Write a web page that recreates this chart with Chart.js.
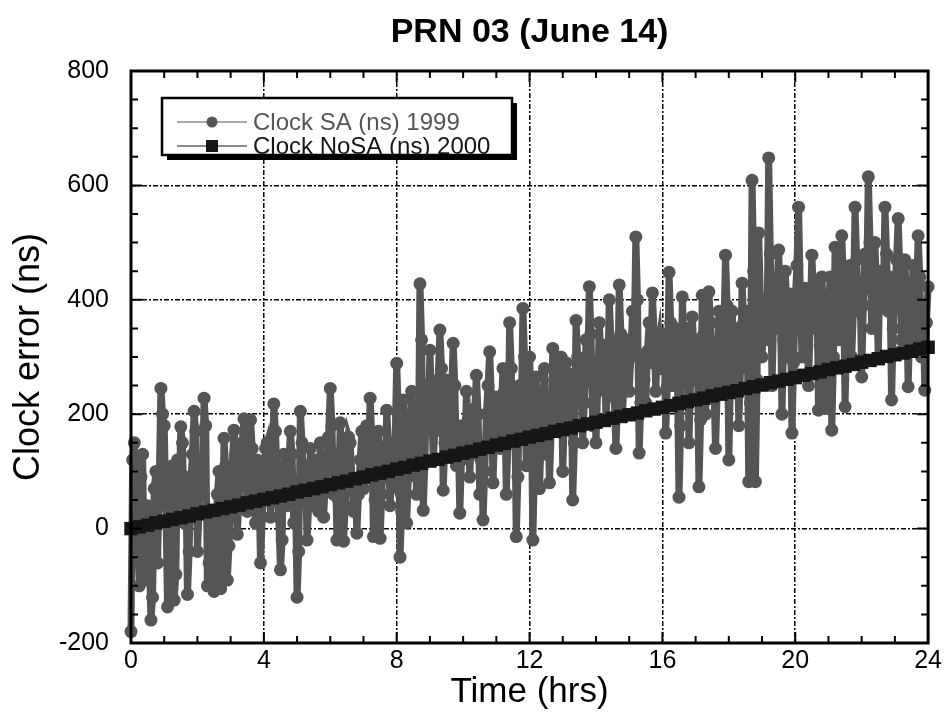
<!DOCTYPE html>
<html>
<head>
<meta charset="utf-8">
<title>PRN 03 (June 14)</title>
<script src="https://cdn.jsdelivr.net/npm/chart.js@4"></script>
<style>
  html, body { margin: 0; padding: 0; background: #fff; }
  #wrap { width: 945px; height: 716px; }
</style>
</head>
<body>
<div id="wrap"><canvas id="chart" width="945" height="716"></canvas></div>
<script>
const chartTitle = 'PRN 03 (June 14)';
const xTitle = 'Time (hrs)';
const yTitle = 'Clock error (ns)';
const saLabel = 'Clock SA (ns) 1999';
const noSaLabel = 'Clock NoSA (ns) 2000';

const xTicks = [0, 4, 8, 12, 16, 20, 24];
const yTicks = [-200, 0, 200, 400, 600, 800];
const xMinorStep = 1;
const yMinorStep = 50;

// SA clock error, one reading every 0.05 h (one row per hour)
const saStep = 0.05;
const saValues = [
  -180, 120, 150, 60, -20, -100, 90, 130, -90, 20, 40, -40, -160, -120, 70, 100, -60, 80, 245, 200,
  180, 40, -137, -60, 40, 110, -125, -80, 120, 60, 178, 150, 10, 90, -115, -40, 80, 130, 205, 170,
  -40, 30, 120, 60, 228, 180, -100, -60, 20, -80, -110, -20, 60, 100, -105, -70, 158, 110, -90, -30,
  40, 110, 172, 130, -10, 50, 95, 150, 192, 120, 30, 90, 190, 140, 60, 10, 120, 80, -60, 20,
  80, 140, 150, 100, 20, 60, 218, 170, 90, 20, -72, -20, 130, 90, 40, 110, 170, 130, 10, 70,
  -120, -40, 205, 150, 60, 110, -20, 40, 140, 90, 50, 120, 90, 30, 150, 110, 20, 80, 110, 160,
  245, 180, 60, 130, -20, 50, 185, 120, -22, 40, 100, 160, 150, 90, 30, 80, -8, 60, 120, 170,
  70, 130, 180, 110, 228, 160, -14, 50, 110, 170, -17, 60, 140, 90, 207, 150, 40, 100, 90, 140,
  289, 200, -50, 30, 225, 150, 10, 90, 180, 240, 120, 170, 60, 110, 428, 330, 32, 120, 250, 190,
  312, 220, 120, 170, 200, 260, 347, 280, 67, 150, 260, 200, 150, 230, 324, 250, 110, 180, 27, 120,
  180, 130, 240, 190, 90, 160, 150, 210, 268, 200, 60, 140, 15, 100, 200, 250, 309, 230, 80, 170,
  230, 180, 140, 210, 280, 240, 60, 150, 360, 280, 170, 230, -14, 90, 250, 190, 385, 300, 110, 200,
  300, 230, -20, 120, 265, 200, 70, 160, 220, 280, 130, 200, 80, 170, 315, 260, 170, 230, 250, 300,
  100, 200, 290, 240, 200, 270, 50, 150, 364, 300, 230, 280, 150, 220, 330, 270, 423, 340, 180, 250,
  150, 240, 360, 300, 260, 320, 190, 250, 400, 330, 280, 230, 140, 220, 426, 340, 200, 270, 330, 290,
  240, 300, 380, 320, 510, 400, 132, 220, 300, 260, 220, 310, 360, 290, 412, 340, 240, 310, 330, 280,
  280, 340, 167, 250, 448, 360, 250, 320, 350, 280, 55, 180, 405, 330, 300, 350, 150, 260, 370, 310,
  260, 330, 73, 190, 408, 340, 200, 290, 414, 360, 300, 250, 140, 240, 380, 320, 250, 340, 478, 390,
  120, 260, 380, 320, 260, 350, 180, 280, 429, 360, 300, 380, 82, 220, 609, 450, 82, 260, 517, 400,
  300, 360, 400, 330, 648, 480, 250, 370, 350, 420, 487, 400, 200, 330, 450, 380, 300, 410, 167, 290,
  400, 460, 562, 420, 300, 380, 420, 350, 250, 360, 478, 410, 350, 430, 207, 320, 440, 380, 210, 330,
  380, 440, 172, 300, 492, 420, 330, 390, 512, 440, 213, 350, 400, 460, 300, 380, 562, 470, 380, 430,
  265, 390, 480, 420, 615, 500, 350, 440, 500, 410, 300, 450, 450, 390, 562, 480, 380, 440, 225, 350,
  420, 470, 542, 450, 330, 420, 470, 400, 248, 360, 400, 460, 330, 400, 512, 440, 300, 390, 242, 360,
  423
];

// NoSA clock error, one reading every 0.25 h
const noSaStep = 0.25;
const noSaValues = [
  0, 3, 6, 10, 13, 16, 19, 22, 26, 29, 32, 35, 38, 41, 45, 48, 51, 54, 57, 60, 64, 67, 70, 73, 77,
  80, 83, 87, 90, 94, 97, 100, 104, 107, 111, 114, 118, 121, 125, 128, 132, 135, 139, 142, 146, 149, 153, 156, 160,
  163, 166, 170, 173, 176, 180, 183, 186, 189, 193, 196, 199, 202, 206, 209, 212, 215, 219, 222, 225, 228, 232, 235, 238,
  241, 245, 248, 251, 255, 258, 261, 264, 268, 271, 274, 278, 281, 284, 287, 291, 294, 297, 301, 304, 307, 310, 314, 317
];

const FONT = '"Liberation Sans", Arial, Helvetica, sans-serif';
const SA_COLOR = '#555555';
const NOSA_COLOR = '#161616';

const saPoints = saValues.map((v, i) => ({ x: +(i * saStep).toFixed(2), y: v }));
const noSaPoints = noSaValues.map((v, i) => ({ x: +(i * noSaStep).toFixed(2), y: v }));

// frame with inward ticks on all four sides
const framePlugin = {
  id: 'frame',
  afterDatasetsDraw(chart) {
    const { ctx, chartArea: a, scales: { x, y } } = chart;
    ctx.save();
    ctx.strokeStyle = '#000';
    ctx.lineWidth = 2;
    ctx.beginPath();
    for (let v = x.min; v <= x.max; v += xMinorStep) {
      const px = x.getPixelForValue(v);
      const len = xTicks.includes(v) ? 11 : 7;
      ctx.moveTo(px, a.bottom); ctx.lineTo(px, a.bottom - len);
      ctx.moveTo(px, a.top); ctx.lineTo(px, a.top + len);
    }
    for (let v = y.min; v <= y.max; v += yMinorStep) {
      const py = y.getPixelForValue(v);
      const len = yTicks.includes(v) ? 11 : 7;
      ctx.moveTo(a.left, py); ctx.lineTo(a.left + len, py);
      ctx.moveTo(a.right, py); ctx.lineTo(a.right - len, py);
    }
    ctx.stroke();
    ctx.lineWidth = 3;
    ctx.strokeRect(a.left, a.top, a.right - a.left, a.bottom - a.top);
    ctx.restore();
  }
};

const titlePlugin = {
  id: 'plotTitle',
  afterDraw(chart) {
    const { ctx, chartArea: a } = chart;
    ctx.save();
    ctx.font = 'bold 34px ' + FONT;
    ctx.fillStyle = '#000';
    ctx.textAlign = 'center';
    ctx.textBaseline = 'middle';
    ctx.fillText(chartTitle, (a.left + a.right) / 2, 33);
    ctx.restore();
  }
};

const legendPlugin = {
  id: 'boxLegend',
  afterDraw(chart) {
    const ctx = chart.ctx;
    const bx = 162, by = 98, bw = 350, bh = 57;
    ctx.save();
    ctx.fillStyle = '#000';
    ctx.fillRect(bx + 5, by + 5, bw, bh);
    ctx.fillStyle = '#fff';
    ctx.fillRect(bx, by, bw, bh);
    ctx.lineWidth = 2.5;
    ctx.strokeStyle = '#000';
    ctx.strokeRect(bx, by, bw, bh);

    const rows = [
      { label: saLabel, color: SA_COLOR, y: 122, marker: 'circle' },
      { label: noSaLabel, color: NOSA_COLOR, y: 146, marker: 'rect' }
    ];
    ctx.font = '24px ' + FONT;
    ctx.textBaseline = 'middle';
    rows.forEach(r => {
      ctx.strokeStyle = r.color;
      ctx.fillStyle = r.color;
      ctx.lineWidth = 1.2;
      ctx.beginPath();
      ctx.moveTo(177, r.y); ctx.lineTo(247, r.y);
      ctx.stroke();
      if (r.marker === 'circle') {
        ctx.beginPath();
        ctx.arc(212, r.y, 5.5, 0, Math.PI * 2);
        ctx.fill();
      } else {
        ctx.fillRect(206, r.y - 6, 12, 12);
      }
      ctx.fillText(r.label, 253, r.y + 1);
    });
    ctx.restore();
  }
};

new Chart(document.getElementById('chart'), {
  type: 'line',
  data: {
    datasets: [
      {
        label: noSaLabel,
        data: noSaPoints,
        order: 0,
        borderColor: NOSA_COLOR,
        borderWidth: 1,
        pointStyle: 'rect',
        pointRadius: 9.5,
        pointBorderWidth: 0,
        pointBackgroundColor: NOSA_COLOR,
        clip: false
      },
      {
        label: saLabel,
        data: saPoints,
        order: 1,
        borderColor: SA_COLOR,
        borderWidth: 7,
        pointStyle: 'circle',
        pointRadius: 6.5,
        pointBorderWidth: 0,
        pointBackgroundColor: SA_COLOR,
        clip: false
      }
    ]
  },
  options: {
    responsive: false,
    animation: false,
    layout: { padding: { top: 71, right: 14, left: 0, bottom: 0 } },
    plugins: {
      legend: { display: false },
      tooltip: { enabled: false },
      title: { display: false }
    },
    scales: {
      x: {
        type: 'linear',
        min: 0,
        max: 24,
        afterFit(scale) { scale.height = 73; },
        afterBuildTicks(scale) { scale.ticks = xTicks.map(v => ({ value: v })); },
        ticks: {
          font: { family: FONT, size: 25 },
          color: '#000',
          padding: 3,
          maxRotation: 0
        },
        grid: {
          color: '#000',
          lineWidth: 1.5,
          drawTicks: false
        },
        border: { display: false, dash: [5, 2, 2, 2] },
        title: {
          display: true,
          text: xTitle,
          font: { family: FONT, size: 35 },
          color: '#000',
          padding: { top: 0, bottom: 3 }
        }
      },
      y: {
        type: 'linear',
        min: -200,
        max: 800,
        afterFit(scale) { scale.width = 131; },
        afterBuildTicks(scale) { scale.ticks = yTicks.map(v => ({ value: v })); },
        ticks: {
          font: { family: FONT, size: 25 },
          color: '#000',
          padding: 22
        },
        grid: {
          color: '#000',
          lineWidth: 1.5,
          drawTicks: false
        },
        border: { display: false, dash: [5, 2, 2, 2] },
        title: {
          display: true,
          text: yTitle,
          font: { family: FONT, size: 36 },
          color: '#000',
          padding: { top: 7, bottom: 0 }
        }
      }
    }
  },
  plugins: [framePlugin, titlePlugin, legendPlugin]
});
</script>
</body>
</html>
